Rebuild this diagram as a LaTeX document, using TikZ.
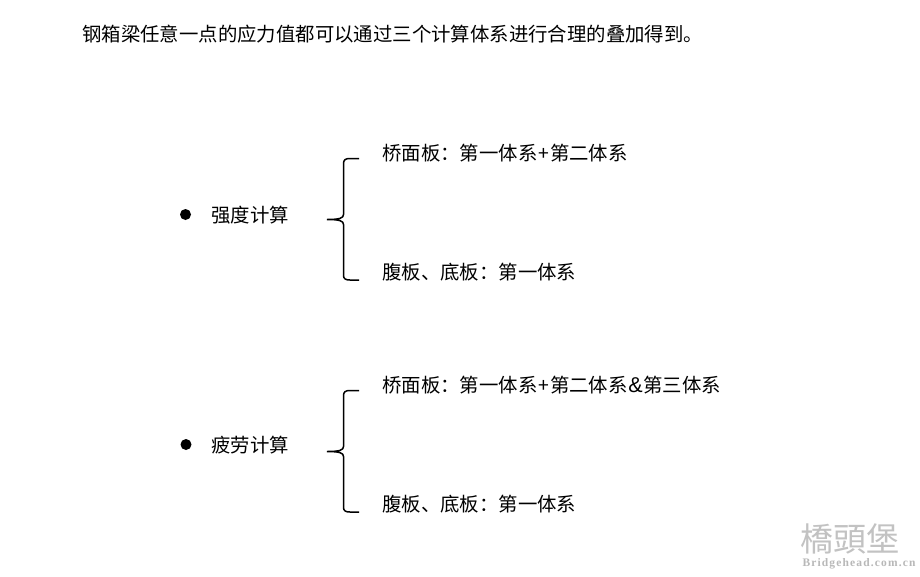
\documentclass[tikz,border=0pt]{standalone}
\usepackage{fontspec}
\newfontfamily\cjk{Noto Sans CJK SC}
\newfontfamily\wmlatin[LetterSpace=10]{Liberation Serif}
\newfontfamily\latin{Liberation Sans}
\newcommand{\plusg}{\hspace{1pt}+\hspace{1pt}}
\newcommand{\ampg}{\hspace{0.5pt}{\fontsize{21.5}{22}\latin\&}\hspace{0.8pt}}
\tikzset{
  x=1pt,y=-1pt,
  txt/.style={anchor=west,inner sep=0pt,text=black,font=\fontsize{19.4}{22}\cjk},
  dotmark/.style={circle,fill=black,inner sep=0pt,minimum size=11pt},
  bracepath/.style={draw=black,line width=1.5pt},
  mark1/.style={anchor=center,inner sep=0pt,text=black!24,font=\fontsize{33}{36}\cjk},
  mark2/.style={anchor=center,inner sep=0pt,text=black!28,font=\fontsize{11.5}{13}\wmlatin\bfseries}
}
\begin{document}
\begin{tikzpicture}
\useasboundingbox (0,0) rectangle (920,576);
\fill[white] (0,0) rectangle (920,576);
\node[txt] (t) at (82,34.5) {钢箱梁任意一点的应力值都可以通过三个计算体系进行合理的叠加得到。};
\node[dotmark] (d1) at (185.5,214.5) {};
\node[txt] (s1) at (211,215) {强度计算};
\node[txt] (a1) at (382,153) {桥面板：第一体系\plusg 第二体系};
\node[txt] (b1) at (382,272) {腹板、底板：第一体系};
\node[dotmark] (d2) at (186,444.5) {};
\node[txt] (s2) at (211,445) {疲劳计算};
\node[txt] (a2) at (382,385) {桥面板：第一体系\plusg 第二体系\ampg 第三体系};
\node[txt] (b2) at (382,504) {腹板、底板：第一体系};
\path[bracepath] (359,158.5) -- (350,158.5) .. controls (345,158.5) and (343.5,160) .. (343.5,164) -- (343.5,214.5) .. controls (343.5,218) and (340,219.5) .. (327,219.5) .. controls (340,219.5) and (343.5,221) .. (343.5,224.5) -- (343.5,275) .. controls (343.5,278.5) and (345,280) .. (350,280) -- (359,280);
\path[bracepath] (359,390.5) -- (350,390.5) .. controls (345,390.5) and (343.5,392) .. (343.5,396) -- (343.5,446.5) .. controls (343.5,450) and (340,451.5) .. (327,451.5) .. controls (340,451.5) and (343.5,453) .. (343.5,456.5) -- (343.5,507) .. controls (343.5,510.5) and (345,512) .. (350,512) -- (359,512);
\node[mark1] (m1) at (849.5,539) {橋頭堡};
\node[mark2] (m2) at (859,564) {Bridgehead.com.cn};
\end{tikzpicture}
\end{document}
